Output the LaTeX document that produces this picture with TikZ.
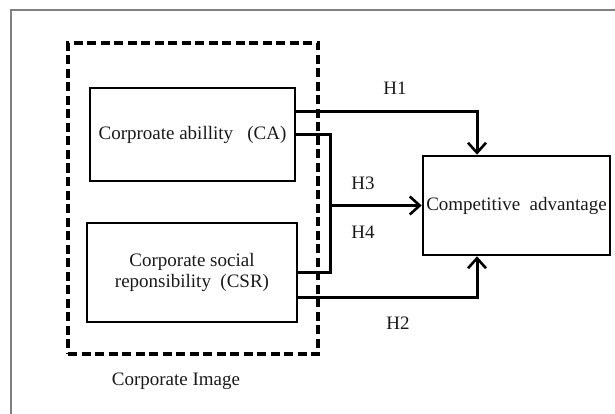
\documentclass[tikz,border=0pt]{standalone}
\usepackage{fontspec}
\setmainfont{Liberation Serif}
\usetikzlibrary{arrows.meta}

\begin{document}
\begin{tikzpicture}[x=1pt, y=-1pt,
  every node/.style={font=\fontsize{19}{21}\selectfont, text=black!90},
  box/.style={draw=black, line width=2.6pt, align=center, inner sep=0pt},
  link/.style={line width=3pt},
  hyp/.style={line width=3pt, -{Straight Barb[length=10pt,width=18pt,line width=2.6pt]}}]
  \useasboundingbox (0,0) rectangle (615,414);
  \draw[black!50, line width=1.4pt] (11,414) -- (11,10) -- (615,10);
  % corporate image frame
  \node[draw=black, line width=3.2pt, dash pattern=on 9pt off 4.5pt, minimum width=250pt, minimum height=311pt] (img) at (193,198.5) {};
  \node (imglabel) at (176,381) {Corporate Image};
  % constructs
  \node[box, minimum width=205pt, minimum height=93pt] (ca) at (192.5,134.5) {Corproate abillity\ \ \ (CA)};
  \node[box, minimum width=210pt, minimum height=99pt] (csr) at (192,272.5) {Corporate social\\reponsibility\ \ (CSR)};
  \node[box, minimum width=187pt, minimum height=99pt] (comp) at (516.5,205.5) {Competitive\ \ advantage};
  % hypotheses
  \draw[hyp] ([yshift=22.5pt]ca.east) -| ([xshift=-39.5pt]comp.north);
  \draw[hyp] ([yshift=-24.5pt]csr.east) -| ([xshift=-39.5pt]comp.south);
  \draw[link] (ca.east) -- ++(34,0) |- (csr.east);
  \coordinate (join) at ([xshift=34pt]ca.east |- comp.west);
  \draw[hyp] (join) -- (comp.west);
  \node (h1) at (395,88) {H1};
  \node (h3) at (363,183) {H3};
  \node (h4) at (363,232) {H4};
  \node (h2) at (398,323) {H2};
\end{tikzpicture}
\end{document}
